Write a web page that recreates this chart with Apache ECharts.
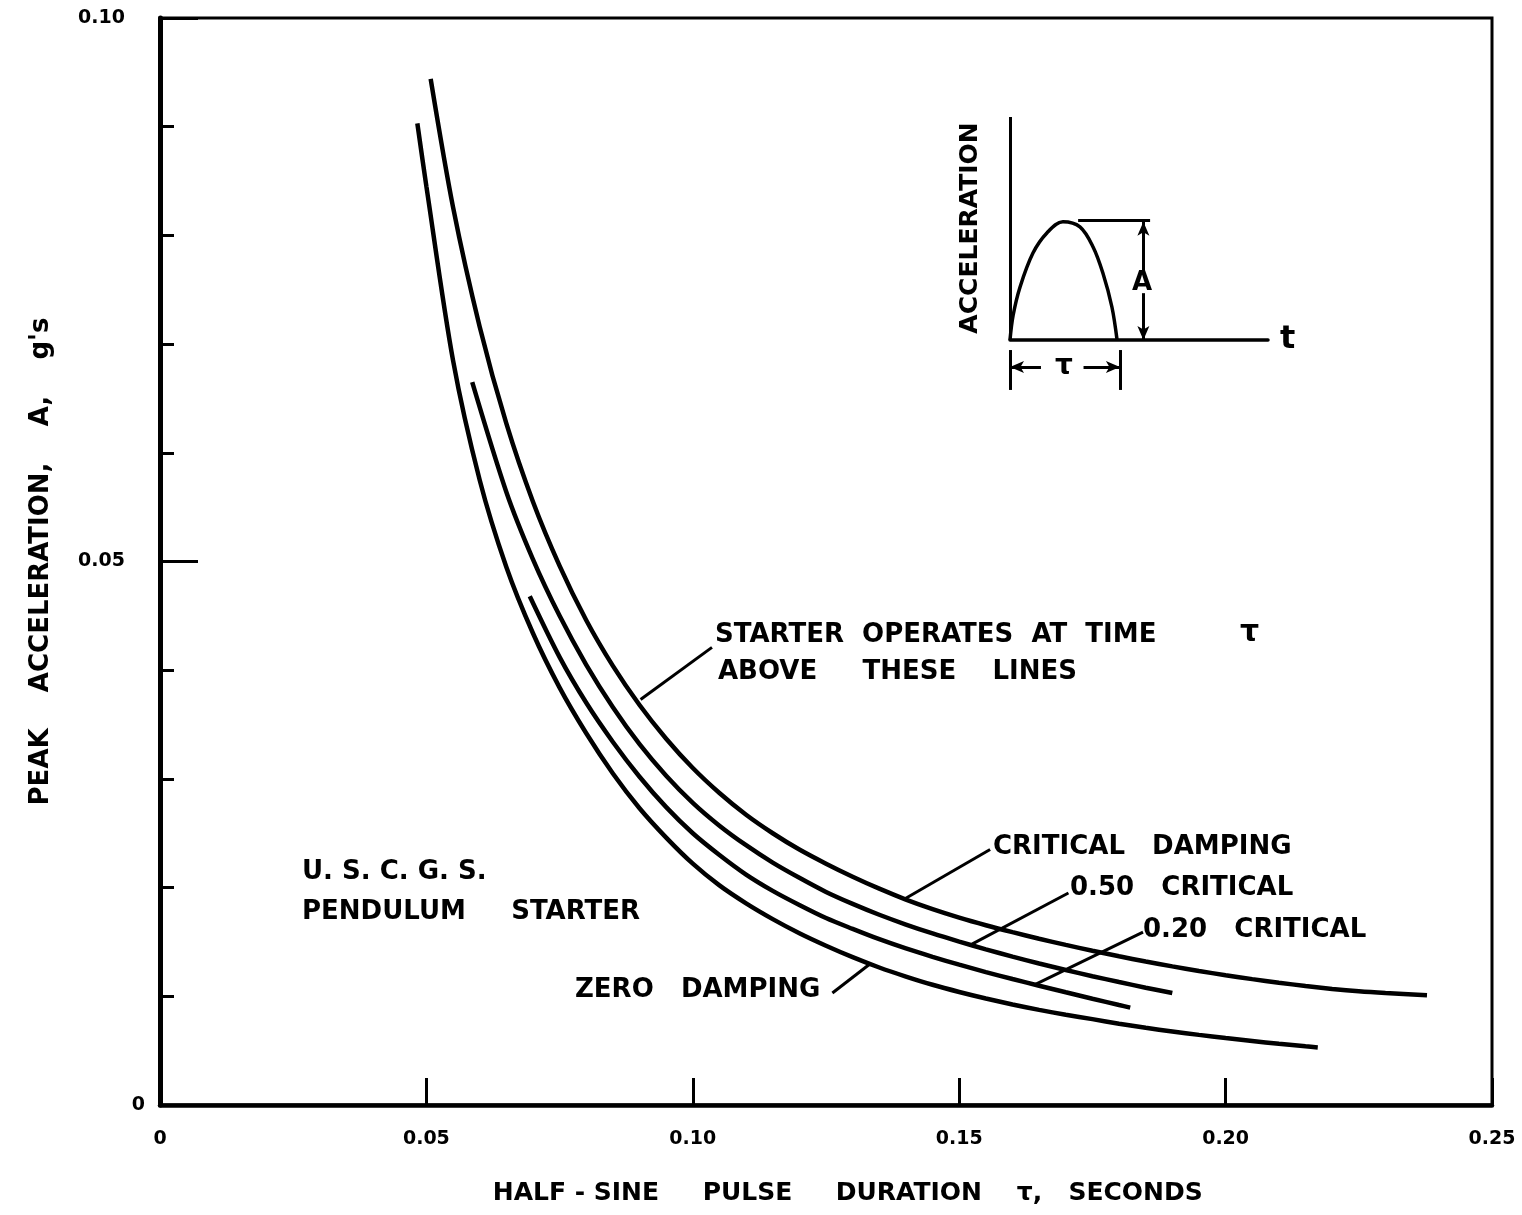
<!DOCTYPE html>
<html><head><meta charset="utf-8">
<script src="https://cdn.jsdelivr.net/npm/echarts@6/dist/echarts.min.js"></script>
<style>html,body{margin:0;padding:0;background:#fff}#c{width:1522px;height:1215px}</style>
</head><body><div id="c"></div>
<script>
// ---------- data ----------
const xTickLabels = ['0', '0.05', '0.10', '0.15', '0.20', '0.25'];
const yTickLabels = ['0', '0.05', '0.10'];
const seriesNames = ['CRITICAL DAMPING', '0.50 CRITICAL', '0.20 CRITICAL', 'ZERO DAMPING'];

const tauCritical = [0.0508, 0.055, 0.060, 0.065, 0.070, 0.075, 0.080, 0.085, 0.090, 0.095, 0.100, 0.105, 0.110, 0.115, 0.120, 0.125, 0.130, 0.135, 0.140, 0.145, 0.150, 0.155, 0.160, 0.165, 0.170, 0.175, 0.180, 0.185, 0.190, 0.195, 0.200, 0.205, 0.210, 0.215, 0.220, 0.225, 0.230, 0.2378];
const accCritical = [0.0944, 0.0826, 0.0716, 0.0627, 0.0555, 0.0496, 0.0446, 0.0404, 0.0368, 0.0337, 0.0310, 0.0287, 0.0267, 0.0250, 0.0235, 0.0222, 0.0210, 0.0199, 0.0189, 0.01802, 0.01724, 0.01654, 0.01590, 0.01530, 0.01473, 0.01419, 0.01368, 0.01320, 0.01275, 0.01233, 0.01194, 0.01158, 0.01125, 0.01095, 0.01068, 0.01046, 0.01030, 0.01010];

const tauHalf = [0.0586, 0.065, 0.070, 0.075, 0.080, 0.085, 0.090, 0.095, 0.100, 0.105, 0.110, 0.115, 0.120, 0.125, 0.130, 0.135, 0.140, 0.145, 0.150, 0.155, 0.160, 0.165, 0.170, 0.175, 0.180, 0.185, 0.190];
const accHalf = [0.0665, 0.0564, 0.0502, 0.0450, 0.0405, 0.0366, 0.0332, 0.0303, 0.0278, 0.0257, 0.0239, 0.0223, 0.0209, 0.0196, 0.0185, 0.0175, 0.0166, 0.01578, 0.01503, 0.01432, 0.01365, 0.01302, 0.01242, 0.01185, 0.01131, 0.01079, 0.01030];

const tauFifth = [0.0694, 0.075, 0.080, 0.085, 0.090, 0.095, 0.100, 0.105, 0.110, 0.115, 0.120, 0.125, 0.130, 0.135, 0.140, 0.145, 0.150, 0.155, 0.160, 0.165, 0.170, 0.175, 0.180, 0.1821];
const accFifth = [0.0468, 0.0412, 0.0370, 0.0334, 0.0302, 0.0274, 0.0250, 0.0230, 0.0212, 0.0197, 0.0184, 0.0172, 0.0162, 0.01525, 0.0144, 0.01363, 0.01291, 0.01223, 0.01159, 0.01097, 0.01037, 0.00978, 0.00920, 0.00896];

const tauZero = [0.0483, 0.050, 0.055, 0.060, 0.065, 0.070, 0.075, 0.080, 0.085, 0.090, 0.095, 0.100, 0.105, 0.110, 0.115, 0.120, 0.125, 0.130, 0.135, 0.140, 0.145, 0.150, 0.155, 0.160, 0.165, 0.170, 0.175, 0.180, 0.185, 0.190, 0.195, 0.200, 0.205, 0.210, 0.215, 0.2173];
const accZero = [0.0903, 0.0845, 0.0685, 0.0575, 0.0495, 0.0434, 0.0384, 0.0342, 0.0305, 0.0273, 0.0246, 0.0222, 0.0202, 0.01855, 0.0171, 0.0158, 0.01465, 0.0136, 0.01265, 0.01182, 0.01106, 0.0104, 0.0098, 0.00925, 0.00875, 0.0083, 0.0079, 0.00748, 0.0071, 0.00677, 0.00645, 0.00616, 0.00589, 0.00563, 0.0054, 0.0053];

// leader lines from labels to curves (data coordinates)
const leaderLines = [
  [[0.1036, 0.0421], [0.0902, 0.0373]],
  [[0.1558, 0.0235], [0.1399, 0.0190]],
  [[0.1705, 0.0195], [0.1524, 0.0148]],
  [[0.1845, 0.0159], [0.1643, 0.0111]],
  [[0.1262, 0.0103], [0.1333, 0.0130]]
];

// inset half-sine sketch (normalised inset coordinates)
const insetT = [0, 0.012, 0.039, 0.089, 0.143, 0.205, 0.271, 0.322, 0.360, 0.395, 0.415];
const insetA = [0, 0.110, 0.238, 0.390, 0.480, 0.530, 0.507, 0.417, 0.300, 0.148, 0];

// ---------- chart ----------
const F = 'DejaVu Sans';
const zip = (a, b) => a.map((v, i) => [v, b[i]]);
const txt = (s, x, y, size, extra) => ({
  type: 'text', x: x, y: y, silent: true, z: 100,
  style: Object.assign({ text: s, fill: '#000', font: 'bold ' + size + 'px "' + F + '"', align: 'left', verticalAlign: 'middle' }, extra || {})
});

const curveStyle = { color: '#000', width: 4.5 };
const mkCurve = (name, t, a) => ({
  name: name, type: 'line', xAxisIndex: 0, yAxisIndex: 0, data: zip(t, a),
  smooth: 0.3, symbol: 'none', showSymbol: false,
  lineStyle: curveStyle, itemStyle: { color: '#000' }, silent: true
});

const main = [
  mkCurve(seriesNames[0], tauCritical, accCritical),
  mkCurve(seriesNames[1], tauHalf, accHalf),
  mkCurve(seriesNames[2], tauFifth, accFifth),
  mkCurve(seriesNames[3], tauZero, accZero)
];
main[0].markLine = {
  silent: true, symbol: ['none', 'none'], animation: false,
  label: { show: false },
  lineStyle: { color: '#000', width: 3, type: 'solid' },
  emphasis: { disabled: true },
  data: leaderLines.map(([a, b]) => [{ coord: a }, { coord: b }])
};

const arrowEnd = (c) => ({ coord: c, symbol: 'arrow', symbolSize: [9, 14] });
const inset = {
  type: 'line', xAxisIndex: 1, yAxisIndex: 1, data: zip(insetT, insetA),
  smooth: 0.35, symbol: 'none', showSymbol: false, silent: true,
  lineStyle: { color: '#000', width: 3.5 },
  markLine: {
    silent: true, symbol: ['none', 'none'], animation: false,
    label: { show: false }, emphasis: { disabled: true },
    lineStyle: { color: '#000', width: 3, type: 'solid' },
    data: [
      [{ coord: [0, 0] }, { coord: [0, 1] }],
      [{ coord: [0.264, 0.535] }, { coord: [0.543, 0.535] }],
      [{ coord: [0.517, 0.305] }, arrowEnd([0.517, 0.53])],
      [{ coord: [0.517, 0.21] }, arrowEnd([0.517, 0.0])],
      [{ coord: [0, -0.045] }, { coord: [0, -0.224] }],
      [{ coord: [0.426, -0.045] }, { coord: [0.426, -0.224] }],
      [{ coord: [0.12, -0.121] }, arrowEnd([0.0, -0.121])],
      [{ coord: [0.285, -0.121] }, arrowEnd([0.426, -0.121])]
    ]
  }
};

const labelFont = { fontFamily: F, fontWeight: 'bold', fontSize: 19, color: '#000' };

const option = {
  animation: false,
  backgroundColor: '#fff',
  grid: [
    { left: 160, top: 18, right: 30, bottom: 110, show: true, borderColor: '#000', borderWidth: 3, backgroundColor: 'transparent' },
    { left: 1010, top: 117, width: 258, height: 278.75 }
  ],
  xAxis: [
    {
      gridIndex: 0, type: 'value', min: 0, max: 0.25, interval: 0.05,
      axisLine: { show: true, onZero: false, lineStyle: { color: '#000', width: 4.5 } },
      axisTick: { show: true, inside: true, length: 27, lineStyle: { color: '#000', width: 3 } },
      axisLabel: Object.assign({ margin: 25, formatter: v => xTickLabels[Math.round(v / 0.05)] }, labelFont),
      splitLine: { show: false },
      name: '     HALF - SINE     PULSE     DURATION    τ,   SECONDS',
      nameLocation: 'middle', nameGap: 76,
      nameTextStyle: { fontFamily: F, fontWeight: 'bold', fontSize: 25, color: '#000' }
    },
    {
      gridIndex: 1, type: 'value', min: 0, max: 1,
      axisLine: { show: true, onZero: true, lineStyle: { color: '#000', width: 3.5 } },
      axisTick: { show: false }, axisLabel: { show: false }, splitLine: { show: false },
      name: 't', nameLocation: 'end', nameGap: 12,
      nameTextStyle: { fontFamily: F, fontWeight: 'bold', fontSize: 32, color: '#000', verticalAlign: 'middle' }
    }
  ],
  yAxis: [
    {
      gridIndex: 0, type: 'value', min: 0, max: 0.10, interval: 0.05,
      axisLine: { show: true, onZero: false, lineStyle: { color: '#000', width: 5 } },
      axisTick: { show: true, inside: true, length: 38, lineStyle: { color: '#000', width: 3 } },
      minorTick: { show: true, splitNumber: 5, length: 14, lineStyle: { color: '#000', width: 3 } },
      minorSplitLine: { show: false },
      axisLabel: {
        margin: 15,
        formatter: v => { const i = Math.round(v / 0.05); return i === 0 ? '{z|' + yTickLabels[i] + '}' : '{n|' + yTickLabels[i] + '}'; },
        rich: {
          z: Object.assign({}, labelFont),
          n: Object.assign({ padding: [0, 20, 0, 0] }, labelFont)
        }
      },
      splitLine: { show: false },
      name: "PEAK    ACCELERATION,    A,    g's",
      nameLocation: 'middle', nameGap: 106, nameRotate: 90,
      nameTextStyle: { fontFamily: F, fontWeight: 'bold', fontSize: 26, color: '#000' }
    },
    {
      gridIndex: 1, type: 'value', min: -0.25, max: 1,
      axisLine: { show: false }, axisTick: { show: false }, axisLabel: { show: false }, splitLine: { show: false }
    }
  ],
  series: main.concat([inset]),
  graphic: [
    txt('STARTER  OPERATES  AT  TIME', 715, 635, 26),
    txt('τ', 1240, 633, 30),
    txt('ABOVE     THESE    LINES', 718, 672, 26),
    txt('CRITICAL   DAMPING', 993, 847, 26),
    txt('0.50   CRITICAL', 1070, 888, 26),
    txt('0.20   CRITICAL', 1143, 930, 26),
    txt('ZERO   DAMPING', 575, 990, 26),
    txt('U. S. C. G. S.', 302, 872, 26),
    txt('PENDULUM     STARTER', 302, 912, 26),
    txt('A', 1142, 283, 26, { align: 'center' }),
    txt('τ', 1064, 367, 28, { align: 'center' }),
    { type: 'text', x: 970, y: 228, rotation: Math.PI / 2, silent: true, z: 100,
      style: { text: 'ACCELERATION', fill: '#000', font: 'bold 25px "' + F + '"', align: 'center', verticalAlign: 'middle' } }
  ]
};

const chart = echarts.init(document.getElementById('c'), null, { renderer: 'canvas' });
chart.setOption(option);
</script>
</body></html>
